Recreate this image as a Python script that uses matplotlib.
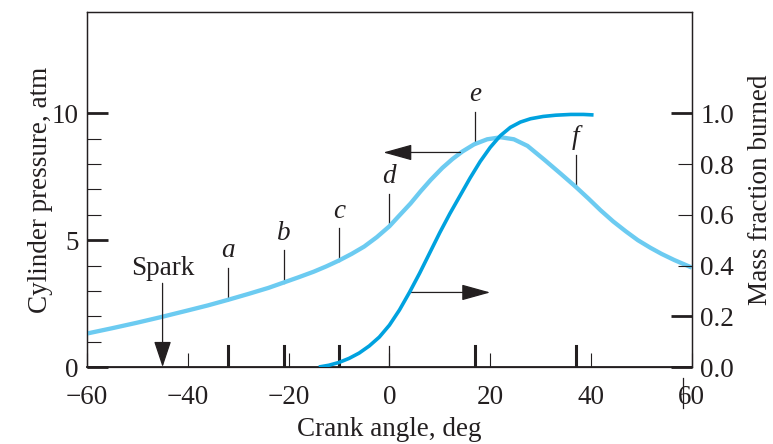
import matplotlib.pyplot as plt

plt.rcParams['font.family'] = ['Liberation Serif', 'DejaVu Serif']

# cylinder pressure, atm (left axis)
p_angle = [-60, -55, -50, -45.5, -40, -36, -32, -28, -24, -21, -18, -15, -12.5, -10,
           -7.5, -5, -2.5, 0, 2, 4.2, 6.2, 8.2, 10.5, 12.5, 14.5, 16.8, 19.4, 22.1,
           24.7, 27.4, 30.7, 34, 37, 39.5, 41.9, 44.4, 46.9, 49.3, 51.8, 54, 56.5, 60]
pressure = [1.32, 1.53, 1.75, 1.96, 2.23, 2.43, 2.65, 2.88, 3.12, 3.33, 3.54, 3.76,
            3.97, 4.2, 4.46, 4.75, 5.12, 5.55, 5.98, 6.45, 6.93, 7.38, 7.85, 8.2, 8.5,
            8.78, 8.98, 9.06, 8.98, 8.72, 8.18, 7.62, 7.1, 6.64, 6.18, 5.74, 5.35, 5.0,
            4.7, 4.46, 4.22, 3.92]

# mass fraction burned (right axis)
mf_angle = [-14, -12, -10, -8, -6, -4, -2, 0, 2, 4, 6, 8, 10, 12, 14, 16, 18, 20, 22,
            24, 26, 28, 30.5, 33, 36, 38.5, 40.5]
mass_frac = [0.0, 0.007, 0.018, 0.034, 0.055, 0.083, 0.118, 0.165, 0.225, 0.295, 0.37,
             0.45, 0.53, 0.605, 0.675, 0.745, 0.81, 0.866, 0.912, 0.945, 0.966, 0.979,
             0.988, 0.993, 0.996, 0.996, 0.994]

# point markers a-f: angle, pressure on curve
mark_labels = ['a', 'b', 'c', 'd', 'e', 'f']
mark_angle = [-32, -21, -10, 0, 17, 37]
mark_p = [2.65, 3.33, 4.2, 5.55, 8.8, 7.1]
spark_angle = -45

light = '#6ccbf1'
dark = '#00a2df'
ink = '#231f20'
fs = 19.5

fig = plt.figure(figsize=(7.73, 4.44), dpi=100)
ax = fig.add_axes([0.1125, 0.1734, 0.7825, 0.7996])
ax2 = ax.twinx()

ax.plot(p_angle, pressure, color=light, lw=3.1, solid_capstyle='butt', zorder=3)
ax2.plot(mf_angle, mass_frac, color=dark, lw=2.6, solid_capstyle='butt', zorder=3)

ax.set_xlim(-60, 60)
ax.set_ylim(0, 14)
ax2.set_ylim(0, 1.4)

for s in ax.spines.values():
    s.set_color(ink)
    s.set_linewidth(0.9)
ax.spines['bottom'].set_linewidth(1.3)
for s in ax2.spines.values():
    s.set_color(ink)
    s.set_linewidth(0.9)

# x ticks
ax.set_xticks([-60, -40, -20, 0, 20, 40, 60])
ax.set_xticklabels(['\u221260', '\u221240', '\u221220', '0', '20', '40', '60'])
ax.tick_params(axis='x', direction='in', length=10, width=0.8, color=ink,
               labelsize=fs, labelcolor=ink, pad=13)

# left y ticks
ax.set_yticks([0, 5, 10])
ax.set_yticks([1, 2, 3, 4, 6, 7, 8, 9], minor=True)
ax.tick_params(axis='y', which='major', direction='in', length=15, width=2,
               color=ink, labelsize=fs, labelcolor=ink, pad=6)
ax.tick_params(axis='y', which='minor', direction='in', length=10, width=0.8,
               color=ink)

# right y ticks
ax2.set_yticks([0.0, 0.2, 1.0], labels=['0.0', '0.2', '1.0'])
ax2.set_yticks([0.4, 0.6, 0.8], labels=['0.4', '0.6', '0.8'], minor=True)
ax2.tick_params(axis='y', which='major', direction='in', length=15, width=2,
                color=ink, labelsize=fs, labelcolor=ink, pad=6)
ax2.tick_params(axis='y', which='minor', direction='in', length=10, width=0.8,
                color=ink, labelsize=fs, labelcolor=ink, pad=6)

ax.set_xlabel('Crank angle, deg', fontsize=fs, color=ink, labelpad=5)
ax.set_ylabel('Cylinder pressure, atm', fontsize=fs, color=ink, labelpad=-1)
ax2.set_ylabel('Mass fraction burned', fontsize=fs, color=ink, labelpad=10)

# marker lines, labels and bottom ticks
for lab, a, p in zip(mark_labels, mark_angle, mark_p):
    ax.plot([a, a], [p, p + 1.27], color=ink, lw=0.9, zorder=2)
    ax.text(a, p + 1.95, lab, ha='center', va='center', fontsize=fs,
            style='italic', color=ink)
    if lab == 'd':
        ax.plot([a, a], [0, 0.83], color=ink, lw=0.9)
    else:
        ax.plot([a, a], [0, 0.83], color=ink, lw=2.2)

# spark
ax.text(spark_angle, 3.9, 'Spark', ha='center', va='center', fontsize=fs, color=ink)
ax.annotate('', xy=(spark_angle, 0), xytext=(spark_angle, 3.3),
            arrowprops=dict(arrowstyle='-|>,head_length=0.9,head_width=0.3',
                            color=ink, lw=0.9, mutation_scale=18, shrinkA=0, shrinkB=0))

# curve-to-axis arrows
ax.annotate('', xy=(-1.2, 8.46), xytext=(14.1, 8.46),
            arrowprops=dict(arrowstyle='-|>,head_length=0.9,head_width=0.25',
                            color=ink, lw=0.9, mutation_scale=20, shrinkA=0, shrinkB=0))
ax.annotate('', xy=(20, 2.94), xytext=(4.2, 2.94),
            arrowprops=dict(arrowstyle='-|>,head_length=0.9,head_width=0.25',
                            color=ink, lw=0.9, mutation_scale=20, shrinkA=0, shrinkB=0))

# stray mark near the 60 label
ax.plot([58.2, 58.2], [-0.45, -1.6], color=ink, lw=0.9, clip_on=False)

fig.savefig('out.png', dpi=100)
